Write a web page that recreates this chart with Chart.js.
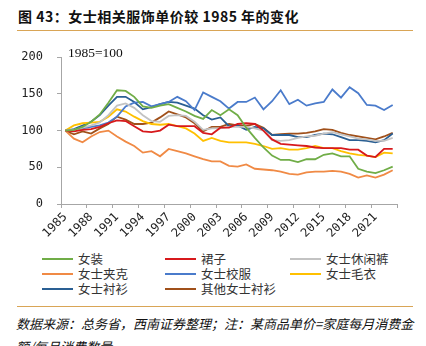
<!DOCTYPE html>
<html>
<head>
<meta charset="utf-8">
<script src="https://cdn.jsdelivr.net/npm/chart.js@4.4.0/dist/chart.umd.min.js"></script>
<style>
  body { margin: 0; background: #fff; width: 426px; height: 346px; overflow: hidden; position: relative; font-family: "Noto Sans CJK SC", sans-serif; }
  #title { position: absolute; left: 18px; top: 6px; font-size: 14px; font-weight: bold; letter-spacing: 0.5px; color: #111; white-space: nowrap; }
  .rule { position: absolute; left: 17px; width: 396px; height: 1px; background: #D9A556; }
  #chartBox { position: absolute; left: 0; top: 36px; width: 426px; height: 210px; }
  #note { position: absolute; left: 68px; top: 45px; font: 13.5px "Liberation Serif", serif; color: #111; }
  #legend { position: absolute; left: 42px; top: 251px; display: grid; grid-template-columns: 123px 125px 120px; font-size: 12.5px; line-height: 15px; color: #333; }
  #legend .item { display: flex; align-items: center; white-space: nowrap; }
  #legend .swatch { width: 31px; height: 2px; margin-right: 5px; }
  #source { position: absolute; left: 16px; top: 312px; font-size: 13px; line-height: 23px; font-style: italic; color: #111; white-space: nowrap; }
</style>
</head>
<body>
<div id="title">图 43：女士相关服饰单价较 1985 年的变化</div>
<div class="rule" style="top:30px"></div>
<div id="chartBox"><canvas id="myLineChart"></canvas></div>
<div id="note">1985=100</div>
<div id="legend"></div>
<div class="rule" style="top:306px"></div>
<div id="source">数据来源：总务省，西南证券整理；注：某商品单价=家庭每月消费金<br>额/每月消费数量</div>

<script>
// ====== data (1985 = 100) ======
const years = ["1985", "1986", "1987", "1988", "1989", "1990", "1991", "1992", "1993", "1994",
  "1995", "1996", "1997", "1998", "1999", "2000", "2001", "2002", "2003", "2004",
  "2005", "2006", "2007", "2008", "2009", "2010", "2011", "2012", "2013", "2014",
  "2015", "2016", "2017", "2018", "2019", "2020", "2021", "2022", "2023"];

const womenSuit = [100, 101, 105, 112, 122, 138, 155, 154, 146, 133,
  131, 134, 136, 131, 126, 120, 116, 128, 121, 129,
  121, 104, 90, 77, 66, 60, 60, 57, 61, 61,
  67, 69, 65, 65, 48, 44, 42, 46, 51];
const skirt = [100, 99, 101, 102, 105, 110, 114, 113, 106, 99,
  98, 100, 108, 106, 106, 106, 97, 95, 104, 104,
  109, 110, 109, 100, 88, 82, 81, 80, 79, 77,
  76, 76, 76, 74, 74, 66, 64, 75, 75];
const casualPants = [100, 101, 104, 107, 111, 121, 134, 137, 131, 121,
  113, 112, 120, 121, 120, 112, 101, 103, 103, 105,
  105, 105, 103, 100, 87, 86, 87, 90, 92, 93,
  96, 98, 95, 92, 89, 88, 86, 86, 90];
const jacket = [100, 89, 84, 92, 98, 100, 92, 85, 79, 70,
  72, 65, 75, 72, 69, 65, 61, 58, 58, 52,
  51, 54, 48, 47, 46, 44, 41, 40, 43, 44,
  44, 45, 44, 41, 36, 39, 36, 40, 46];
const schoolUniform = [100, 101, 103, 105, 107, 111, 119, 133, 138, 139,
  133, 136, 139, 146, 140, 128, 152, 146, 140, 130,
  139, 139, 145, 129, 140, 155, 136, 142, 134, 137,
  139, 156, 145, 159, 151, 135, 134, 128, 135];
const sweater = [100, 107, 110, 111, 112, 119, 129, 126, 119, 113,
  109, 108, 109, 106, 103, 96, 86, 90, 86, 84,
  84, 84, 82, 79, 75, 76, 74, 74, 76, 79,
  76, 76, 72, 69, 67, 66, 64, 70, 69];
const blouse = [100, 102, 107, 112, 121, 134, 146, 146, 139, 129,
  132, 136, 139, 138, 134, 130, 121, 115, 118, 106,
  107, 101, 105, 103, 94, 94, 94, 91, 91, 94,
  96, 95, 91, 87, 87, 86, 84, 87, 96];
const otherBlouse = [100, 95, 99, 96, 103, 109, 119, 115, 109, 109,
  111, 118, 126, 122, 118, 110, 99, 105, 105, 109,
  107, 106, 109, 104, 94, 95, 96, 96, 97, 99,
  102, 101, 97, 94, 92, 90, 88, 92, 97];

const seriesNames = ["女装", "裙子", "女士休闲裤", "女士夹克", "女士校服", "女士毛衣", "女士衬衫", "其他女士衬衫"];
const seriesValues = [womenSuit, skirt, casualPants, jacket, schoolUniform, sweater, blouse, otherBlouse];
const seriesColors = ["#70AD47", "#D7191C", "#C3C3C3", "#F08A45", "#4A7BCB", "#FFC000", "#2A5F93", "#A0501A"];

const yTicks = [0, 50, 100, 150, 200];
const axisGrey = "#A6A6A6";

// legend built from the same arrays, laid out in 3 columns like the original
const legendBox = document.getElementById("legend");
seriesNames.forEach(function (name, i) {
  const item = document.createElement("div");
  item.className = "item";
  item.innerHTML = '<span class="swatch" style="background:' + seriesColors[i] + '"></span>' + name;
  legendBox.appendChild(item);
});

const ctx = document.getElementById("myLineChart").getContext("2d");

new Chart(ctx, {
  type: "line",
  data: {
    labels: years,
    datasets: seriesNames.map(function (name, i) {
      return {
        label: name,
        data: seriesValues[i],
        borderColor: seriesColors[i],
        backgroundColor: seriesColors[i],
        borderWidth: 1.8,
        pointRadius: 0,
        tension: 0,
        fill: false,
      };
    }),
  },
  options: {
    responsive: true,
    maintainAspectRatio: false,
    animation: false,
    layout: {
      padding: { left: 0, right: 29, top: 10, bottom: 0 },
    },
    scales: {
      x: {
        offset: true,
        grid: {
          display: true,
          offset: true,
          drawOnChartArea: false,
          drawTicks: true,
          tickLength: 4,
          color: function (c) {
            return c.type !== "tick" || c.index % 3 === 0 ? axisGrey : "rgba(0,0,0,0)";
          },
        },
        border: { color: axisGrey },
        ticks: {
          autoSkip: false,
          minRotation: 45,
          maxRotation: 45,
          padding: 2,
          color: "#222",
          font: { family: "DejaVu Sans Mono", size: 12 },
          callback: function (value, index) {
            return index % 3 === 0 ? this.getLabelForValue(value) : "";
          },
        },
        afterFit: function (scale) {
          scale.height = 42;
        },
      },
      y: {
        min: yTicks[0],
        max: yTicks[yTicks.length - 1],
        grid: {
          display: true,
          drawOnChartArea: false,
          drawTicks: true,
          tickLength: 4,
          color: axisGrey,
        },
        border: { color: axisGrey },
        ticks: {
          stepSize: yTicks[1] - yTicks[0],
          padding: 14,
          color: "#222",
          font: { family: "DejaVu Sans Mono", size: 12 },
        },
        afterFit: function (scale) {
          scale.width = 61;
        },
      },
    },
    plugins: {
      legend: { display: false },
      tooltip: { enabled: false },
    },
  },
});
</script>
</body>
</html>
